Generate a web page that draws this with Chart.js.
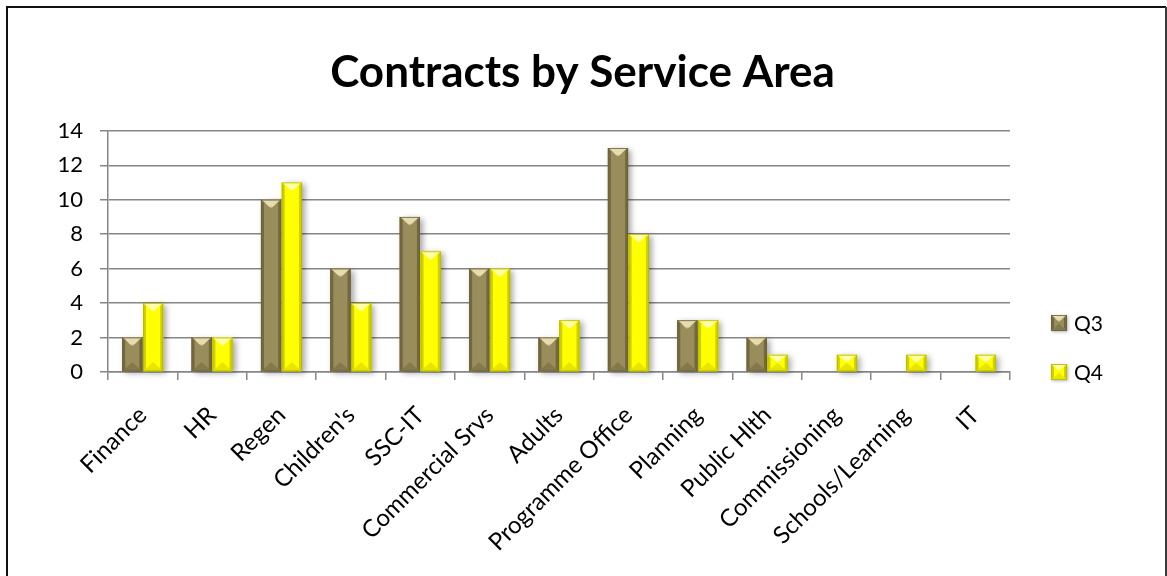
<!DOCTYPE html>
<html>
<head>
<meta charset="utf-8">
<title>Contracts by Service Area</title>
<script src="https://cdn.jsdelivr.net/npm/chart.js@4.4.1/dist/chart.umd.min.js"></script>
<style>
  html, body { margin: 0; padding: 0; background: #fff; }
  #wrap { position: relative; width: 1167px; height: 576px; }
</style>
</head>
<body>
<div id="wrap"><canvas id="contractsChart"></canvas></div>
<script>
// Contracts per service area, Q3 vs Q4
const serviceAreas = ['Finance', 'HR', 'Regen', "Children's", 'SSC-IT', 'Commercial Srvs', 'Adults',
    'Programme Office', 'Planning', 'Public Hlth', 'Commissioning', 'Schools/Learning', 'IT'];
const q3Contracts = [2, 2, 10, 6, 9, 6, 2, 13, 3, 2, 0, 0, 0];
const q4Contracts = [4, 2, 11, 4, 7, 6, 3, 8, 3, 1, 1, 1, 1];
const yMin = 0;
const yMax = 14;
const yStep = 2;

const FONT = "Lato, 'Open Sans', sans-serif";

// bevel shading for each series
const q3Bevel = { face: '#988d5b', light: '#e6dcae', dark: 'rgba(70,62,30,0.45)', edge: '#6a6240' };
const q4Bevel = { face: '#ffff00', light: '#ffffa8', dark: 'rgba(150,150,0,0.45)', edge: '#b5b500' };

// draws a box with a top highlight, darker sides and a darker bottom
function drawBevelBox(ctx, x0, y0, x1, y1, style) {
    const w = x1 - x0;
    const h = y1 - y0;
    if (h < 0.5) return;
    const xc = (x0 + x1) / 2;
    const t = Math.min(w * 0.45, h / 2);
    const s = Math.min(3, w / 4);

    ctx.save();
    // side edges
    ctx.fillStyle = style.dark;
    ctx.beginPath();
    ctx.moveTo(x0, y0);
    ctx.lineTo(x0 + s, y0 + Math.min(s, t));
    ctx.lineTo(x0 + s, y1 - Math.min(s, t));
    ctx.lineTo(x0, y1);
    ctx.closePath();
    ctx.fill();
    ctx.beginPath();
    ctx.moveTo(x1, y0);
    ctx.lineTo(x1 - s, y0 + Math.min(s, t));
    ctx.lineTo(x1 - s, y1 - Math.min(s, t));
    ctx.lineTo(x1, y1);
    ctx.closePath();
    ctx.fill();

    // bottom
    ctx.globalAlpha = 0.55;
    ctx.beginPath();
    ctx.moveTo(x0, y1);
    ctx.lineTo(x1, y1);
    ctx.lineTo(xc, y1 - t);
    ctx.closePath();
    ctx.fill();
    ctx.globalAlpha = 1;

    // top highlight
    const g = ctx.createLinearGradient(0, y0, 0, y0 + t);
    g.addColorStop(0, style.light);
    g.addColorStop(0.7, style.light);
    g.addColorStop(1, style.face);
    ctx.fillStyle = g;
    ctx.beginPath();
    ctx.moveTo(x0 + 1, y0);
    ctx.lineTo(x1 - 1, y0);
    ctx.lineTo(xc, y0 + t);
    ctx.closePath();
    ctx.fill();

    ctx.strokeStyle = style.edge;
    ctx.lineWidth = 0.8;
    ctx.strokeRect(x0 + 0.4, y0 + 0.4, w - 0.8, h - 0.8);
    ctx.restore();
}

const bevelBars = {
    id: 'bevelBars',
    beforeDatasetsDraw(chart) {
        // soft drop shadow under every bar
        const ctx = chart.ctx;
        ctx.save();
        ctx.shadowColor = 'rgba(0,0,0,0.35)';
        ctx.shadowBlur = 6;
        ctx.shadowOffsetX = 3;
        ctx.shadowOffsetY = 2;
        chart.data.datasets.forEach((ds, i) => {
            ctx.fillStyle = ds.backgroundColor;
            chart.getDatasetMeta(i).data.forEach(bar => {
                const p = bar.getProps(['x', 'y', 'base', 'width'], true);
                if (p.base - p.y < 0.5) return;
                ctx.fillRect(p.x - p.width / 2, p.y, p.width, p.base - p.y);
            });
        });
        ctx.restore();
    },
    afterDatasetsDraw(chart) {
        const ctx = chart.ctx;
        chart.data.datasets.forEach((ds, i) => {
            chart.getDatasetMeta(i).data.forEach(bar => {
                const p = bar.getProps(['x', 'y', 'base', 'width'], true);
                drawBevelBox(ctx, p.x - p.width / 2, p.y, p.x + p.width / 2, p.base, ds.bevel);
            });
        });
    }
};

const sideLegend = {
    id: 'sideLegend',
    afterDraw(chart, args, opts) {
        const { ctx, chartArea } = chart;
        const sets = chart.data.datasets;
        const x = chartArea.right + opts.offsetX;
        sets.forEach((ds, i) => {
            const cy = chartArea.bottom - (sets.length - 1 - i) * opts.spacing;
            ctx.save();
            ctx.shadowColor = 'rgba(0,0,0,0.3)';
            ctx.shadowBlur = 3;
            ctx.shadowOffsetX = 1;
            ctx.shadowOffsetY = 1;
            ctx.fillStyle = ds.backgroundColor;
            ctx.fillRect(x, cy - 8, 16, 16);
            ctx.restore();
            drawBevelBox(ctx, x, cy - 8, x + 16, cy + 8, ds.bevel);
            ctx.save();
            ctx.fillStyle = '#000';
            ctx.font = '21px ' + FONT;
            ctx.textBaseline = 'middle';
            ctx.fillText(ds.label, x + 23, cy + 1);
            ctx.restore();
        });
    }
};

const frame = {
    id: 'frame',
    beforeDraw(chart) {
        const ctx = chart.ctx;
        ctx.save();
        ctx.fillStyle = '#fff';
        ctx.fillRect(0, 0, chart.width, chart.height);
        ctx.restore();
    },
    afterDraw(chart) {
        const ctx = chart.ctx;
        ctx.save();
        ctx.lineWidth = 2;
        ctx.strokeStyle = '#111';
        ctx.beginPath();
        ctx.moveTo(7, chart.height + 2);
        ctx.lineTo(7, 7);
        ctx.lineTo(1166, 7);
        ctx.stroke();
        ctx.strokeStyle = '#3a3a3a';
        ctx.beginPath();
        ctx.moveTo(1166, 7);
        ctx.lineTo(1166, chart.height + 2);
        ctx.stroke();
        ctx.restore();
    }
};

const ctx = document.getElementById('contractsChart').getContext('2d');
const contractsChart = new Chart(ctx, {
    type: 'bar',
    data: {
        labels: serviceAreas,
        datasets: [
            {
                label: 'Q3',
                data: q3Contracts,
                backgroundColor: q3Bevel.face,
                bevel: q3Bevel,
                borderWidth: 0,
                categoryPercentage: 0.6,
                barPercentage: 0.97
            },
            {
                label: 'Q4',
                data: q4Contracts,
                backgroundColor: q4Bevel.face,
                bevel: q4Bevel,
                borderWidth: 0,
                categoryPercentage: 0.6,
                barPercentage: 0.97
            }
        ]
    },
    options: {
        responsive: true,
        maintainAspectRatio: false,
        animation: false,
        layout: { padding: { left: 8, right: 10, top: 0, bottom: 0 } },
        scales: {
            x: {
                grid: { display: true, drawOnChartArea: false, color: '#868686', lineWidth: 1.5, tickLength: 8 },
                border: { color: '#868686', width: 1.5 },
                ticks: {
                    color: '#000',
                    font: { family: FONT, size: 24 },
                    minRotation: 45,
                    maxRotation: 45,
                    autoSkip: false,
                    padding: 21
                },
                afterFit(scale) { scale.height = 204; }
            },
            y: {
                min: yMin,
                max: yMax,
                ticks: {
                    stepSize: yStep,
                    color: '#000',
                    font: { family: FONT, size: 22 },
                    padding: 17
                },
                grid: { color: '#868686', lineWidth: 1.5, tickLength: 8 },
                border: { color: '#868686', width: 1.5 },
                afterFit(scale) { scale.width = 100; }
            },
            // empty band on the right that holds the legend
            legendBand: {
                position: 'right',
                display: true,
                grid: { display: false },
                border: { display: false },
                ticks: { display: false },
                afterFit(scale) { scale.width = 147; }
            }
        },
        plugins: {
            legend: { display: false },
            tooltip: { enabled: false },
            title: {
                display: true,
                text: 'Contracts by Service Area',
                color: '#000',
                font: { family: FONT, size: 44, weight: 'bold' },
                padding: { top: 46, bottom: 32 }
            },
            sideLegend: { offsetX: 41, spacing: 49 }
        }
    },
    plugins: [frame, bevelBars, sideLegend]
});
</script>
</body>
</html>
